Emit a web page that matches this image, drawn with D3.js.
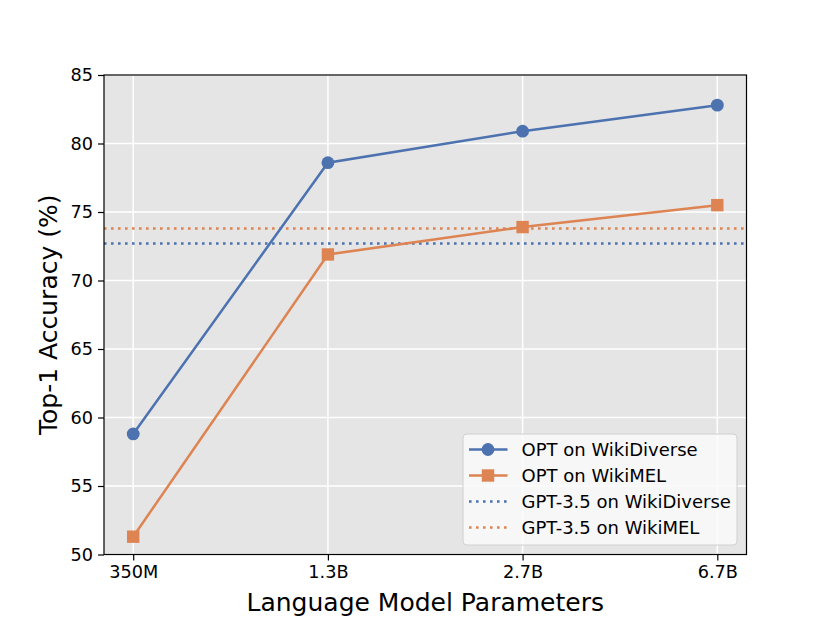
<!DOCTYPE html>
<html><head><meta charset="utf-8">
<script src="https://cdn.jsdelivr.net/npm/d3@7"></script>
<style>body{margin:0;background:#fff}svg{display:block}text{font-family:"DejaVu Sans",sans-serif;fill:#000}</style>
</head><body><svg id="c" width="830" height="623"></svg>
<script>
const categories = ["350M", "1.3B", "2.7B", "6.7B"];
const optWikiDiverse = [58.8, 78.6, 80.9, 82.8];
const optWikiMEL = [51.3, 71.9, 73.9, 75.5];
const gptWikiDiverse = 72.7;
const gptWikiMEL = 73.8;
const yTicks = [50, 55, 60, 65, 70, 75, 80, 85];
const legendLabels = ["OPT on WikiDiverse", "OPT on WikiMEL", "GPT-3.5 on WikiDiverse", "GPT-3.5 on WikiMEL"];

const blue = "#4c72b0", orange = "#dd8452";
const L = 104, R = 746.5, T = 75, B = 554.5;
const svg = d3.select("#c");

const x = d3.scalePoint().domain(categories).range([L, R]).padding(0.15);
const y = d3.scaleLinear().domain([50, 85]).range([B, T]);

svg.append("rect").attr("x", L).attr("y", T).attr("width", R - L).attr("height", B - T).attr("fill", "#e5e5e5");

// grid
svg.append("g").selectAll("line").data(yTicks).join("line")
  .attr("x1", L).attr("x2", R).attr("y1", d => y(d)).attr("y2", d => y(d))
  .attr("stroke", "#fff").attr("stroke-width", 1.5);
svg.append("g").selectAll("line").data(categories).join("line")
  .attr("y1", T).attr("y2", B).attr("x1", d => x(d)).attr("x2", d => x(d))
  .attr("stroke", "#fff").attr("stroke-width", 1.5);

// reference lines
[[gptWikiMEL, orange], [gptWikiDiverse, blue]].forEach(([v, c]) => {
  svg.append("line").attr("x1", L).attr("x2", R).attr("y1", y(v)).attr("y2", y(v))
    .attr("stroke", c).attr("stroke-width", 2.6).attr("stroke-dasharray", "2.6,4.4");
});

const line = d3.line().x((d, i) => x(categories[i])).y(d => y(d));
svg.append("path").datum(optWikiDiverse).attr("d", line).attr("fill", "none").attr("stroke", blue).attr("stroke-width", 2.5);
svg.append("path").datum(optWikiMEL).attr("d", line).attr("fill", "none").attr("stroke", orange).attr("stroke-width", 2.5);
svg.append("g").selectAll("circle").data(optWikiDiverse).join("circle")
  .attr("cx", (d, i) => x(categories[i])).attr("cy", d => y(d)).attr("r", 6.4).attr("fill", blue);
svg.append("g").selectAll("rect").data(optWikiMEL).join("rect")
  .attr("x", (d, i) => x(categories[i]) - 6.2).attr("y", d => y(d) - 6.2).attr("width", 12.4).attr("height", 12.4).attr("fill", orange);

// frame
svg.append("rect").attr("x", L).attr("y", T).attr("width", R - L).attr("height", B - T)
  .attr("fill", "none").attr("stroke", "#000").attr("stroke-width", 1.2);

// axes
const yAxis = svg.append("g").attr("transform", `translate(${L},0)`)
  .call(d3.axisLeft(y).tickValues(yTicks).tickSize(6).tickPadding(5));
const xAxis = svg.append("g").attr("transform", `translate(0,${B})`)
  .call(d3.axisBottom(x).tickSize(6).tickPadding(5));
[yAxis, xAxis].forEach(g => {
  g.select(".domain").remove();
  g.selectAll(".tick line").attr("stroke", "#000").attr("stroke-width", 1.2);
  g.selectAll(".tick text").attr("font-size", 17.7).attr("font-family", "DejaVu Sans").attr("fill", "#000");
});

svg.append("text").attr("x", (L + R) / 2).attr("y", 611).attr("text-anchor", "middle")
  .attr("font-size", 25).text("Language Model Parameters");
svg.append("text").attr("transform", `translate(57,${(T + B) / 2}) rotate(-90)`).attr("text-anchor", "middle")
  .attr("font-size", 25).text("Top-1 Accuracy (%)");

// legend
const lg = svg.append("g");
lg.append("rect").attr("x", 463).attr("y", 434).attr("width", 274).attr("height", 111).attr("rx", 4)
  .attr("fill", "#fafafa").attr("fill-opacity", 0.85).attr("stroke", "#d0d0d0").attr("stroke-width", 1);
const rows = [
  {c: blue, dash: null, m: "circle"},
  {c: orange, dash: null, m: "square"},
  {c: blue, dash: "2.6,4.4", m: null},
  {c: orange, dash: "2.6,4.4", m: null}
];
rows.forEach((r, i) => {
  const cy = 449.5 + i * 26;
  lg.append("line").attr("x1", 469).attr("x2", 507.5).attr("y1", cy).attr("y2", cy)
    .attr("stroke", r.c).attr("stroke-width", r.dash ? 2.6 : 2.5).attr("stroke-dasharray", r.dash);
  if (r.m === "circle") lg.append("circle").attr("cx", 488).attr("cy", cy).attr("r", 6.4).attr("fill", r.c);
  if (r.m === "square") lg.append("rect").attr("x", 481.8).attr("y", cy - 6.2).attr("width", 12.4).attr("height", 12.4).attr("fill", r.c);
  lg.append("text").attr("x", 521.5).attr("y", cy).attr("dy", "0.36em").attr("font-size", 18).text(legendLabels[i]);
});
</script></body></html>
